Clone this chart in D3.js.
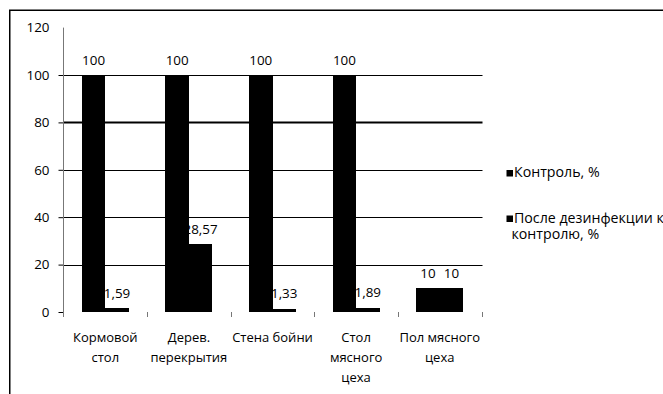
<!DOCTYPE html>
<html>
<head>
<meta charset="utf-8">
<script src="https://cdn.jsdelivr.net/npm/d3@7"></script>
<style>
  html, body { margin: 0; padding: 0; background: #fff; }
  svg { display: block; }
  text { font-family: "Open Sans", "Noto Sans", sans-serif; font-size: 13px; fill: #000; }
  .val, .ytick text { font-size: 13.4px; }
  .legend text { font-size: 14.2px; }
</style>
</head>
<body>
<svg id="chart" width="663" height="394"></svg>
<script>
// Surfaces tested and the share of contamination left after disinfection
const categories = ["Кормовой\nстол", "Дерев.\nперекрытия", "Стена бойни", "Стол\nмясного\nцеха", "Пол мясного\nцеха"];
const seriesNames = ["Контроль, %", "После дезинфекции к\nконтролю, %"];
const controlValues = [100, 100, 100, 100, 10];
const afterValues = [1.59, 28.57, 1.33, 1.89, 10];
const yTicks = [0, 20, 40, 60, 80, 100, 120];

const svg = d3.select("#chart");
const fmt = v => String(v).replace(".", ",");

// Outer chart frame
svg.append("rect")
  .attr("x", 9.75).attr("y", 10.25)
  .attr("width", 700).attr("height", 450)
  .attr("fill", "none").attr("stroke", "#000").attr("stroke-width", 1.5);

const plot = { left: 63.5, right: 481.5, top: 27.6, bottom: 312 };

const y = d3.scaleLinear().domain([0, 120]).range([plot.bottom, plot.top]);
const x = d3.scaleBand().domain(d3.range(categories.length))
  .range([plot.left, plot.right]).paddingInner(0).paddingOuter(0);
const groupW = x.bandwidth() * 0.56;
const xs = d3.scaleBand().domain([0, 1]).range([0, groupW]);

const rows = categories.map((c, i) => ({ i, vals: [controlValues[i], afterValues[i]] }));
const groupLeft = i => x(i) + (x.bandwidth() - groupW) / 2;
const barL = d => Math.round(groupLeft(d.i) + xs(d.k));
const barR = d => Math.round(groupLeft(d.i) + xs(d.k) + xs.bandwidth());

// Horizontal gridlines
svg.append("g").selectAll("line")
  .data(yTicks.filter(t => t > 0 && t < 120))
  .join("line")
  .attr("x1", plot.left).attr("x2", plot.right + 1)
  .attr("y1", d => Math.round(y(d)) + 0.5).attr("y2", d => Math.round(y(d)) + 0.5)
  .attr("stroke", "#000")
  .attr("stroke-width", d => d === 80 ? 2 : 1);

// Value axis
const yAxis = svg.append("g")
  .attr("class", "ytick")
  .attr("transform", `translate(${plot.left},0)`)
  .call(d3.axisLeft(y).tickValues(yTicks).tickSize(5).tickPadding(9).tickFormat(d3.format("d")));
yAxis.select(".domain").remove();
yAxis.selectAll(".tick line").attr("stroke", "#000").attr("opacity", d => d === 120 ? 0 : 1);
yAxis.selectAll(".tick text").attr("font-family", null).attr("font-size", null);
yAxis.append("line")
  .attr("x1", 0).attr("x2", 0).attr("y1", plot.top).attr("y2", plot.bottom + 5)
  .attr("stroke", "#777");

// Category tick marks hanging below the baseline
svg.append("g").selectAll("line")
  .data(d3.range(categories.length + 1).slice(1))
  .join("line")
  .attr("x1", i => Math.round(x(i - 1) + x.bandwidth()) + 0.5)
  .attr("x2", i => Math.round(x(i - 1) + x.bandwidth()) + 0.5)
  .attr("y1", plot.bottom).attr("y2", plot.bottom + 5)
  .attr("stroke", "#777");

// Value labels first, so the bars are drawn over them
const groups = svg.append("g").selectAll("g").data(rows).join("g");
const cells = d => d.vals.map((v, k) => ({ i: d.i, k, v }));

groups.selectAll("text.val").data(cells).join("text")
  .attr("class", "val")
  .attr("x", d => groupLeft(d.i) + xs(d.k) + xs.bandwidth() / 2)
  .attr("y", d => y(d.v) - 10.5)
  .attr("text-anchor", "middle")
  .text(d => fmt(d.v));

groups.selectAll("rect").data(cells).join("rect")
  .attr("x", barL)
  .attr("width", d => barR(d) - barL(d))
  .attr("y", d => y(d.v))
  .attr("height", d => y(0) - y(d.v))
  .attr("fill", "#000")
  .attr("shape-rendering", "crispEdges");

// Category labels
svg.append("g").selectAll("text").data(categories).join("text")
  .attr("text-anchor", "middle")
  .attr("x", (c, i) => x(i) + x.bandwidth() / 2)
  .attr("y", 342)
  .each(function (c) {
    d3.select(this).selectAll("tspan").data(c.split("\n")).join("tspan")
      .attr("x", d3.select(this).attr("x"))
      .attr("dy", (s, k) => k === 0 ? 0 : 20)
      .text(s => s);
  });

// Legend
const legendY = [177, 222.5];
const legend = svg.append("g").attr("class", "legend").selectAll("g").data(seriesNames).join("g");
legend.append("rect")
  .attr("x", 506.5).attr("y", (s, k) => legendY[k] - 7)
  .attr("width", 6.5).attr("height", 6.5).attr("fill", "#000");
legend.append("text")
  .attr("x", 514).attr("y", (s, k) => legendY[k])
  .each(function (s) {
    d3.select(this).selectAll("tspan").data(s.split("\n")).join("tspan")
      .attr("x", (t, j) => j === 0 ? 514 : 511.5)
      .attr("dy", (t, j) => j === 0 ? 0 : 16)
      .text(t => t);
  });
</script>
</body>
</html>
